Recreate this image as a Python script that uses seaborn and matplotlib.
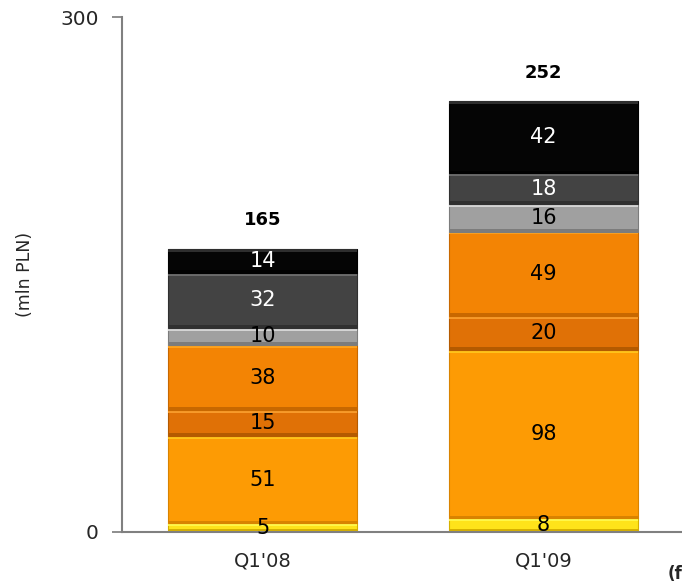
import matplotlib.pyplot as plt
import pandas as pd
import seaborn as sns

quarters = ["Q1'08", "Q1'09"]
segments = ["s1", "s2", "s3", "s4", "s5", "s6", "s7"]
values = {
    "s1": [5, 8],
    "s2": [51, 98],
    "s3": [15, 20],
    "s4": [38, 49],
    "s5": [10, 16],
    "s6": [32, 18],
    "s7": [14, 42],
}
totals = [165, 252]

colors = ["#ffe31a", "#fd9b04", "#e07106", "#f38404", "#a0a0a0", "#434343", "#050505"]
tops = ["#fff64a", "#ffc21a", "#f79a2a", "#ffa21c", "#d4d4d4", "#6a6a6a", "#2e2e2e"]
shades = ["#d6b000", "#d98300", "#b45a00", "#c86800", "#7c7c7c", "#303030", "#000000"]
text_colors = ["black", "black", "black", "black", "black", "white", "white"]

sns.set_theme(style="white")
plt.rcParams["font.family"] = ["DejaVu Sans"]

fig = plt.figure(figsize=(6.82, 5.87), dpi=100)
ax = fig.add_axes([0.179, 0.0937, 0.824, 0.877])

bevel = 1.6
bottom = [0, 0]
for seg, col, tp, sh, tc in zip(segments, colors, tops, shades, text_colors):
    df = pd.DataFrame({"Quarter": quarters, "Value": values[seg]})
    sns.barplot(data=df, x="Quarter", y="Value", bottom=bottom, color=col,
                edgecolor=sh, linewidth=0.8, width=0.67, ax=ax, saturation=1)
    # bevel strips: light on top, dark on bottom of each block
    seg_top = [b + v for b, v in zip(bottom, values[seg])]
    strip = pd.DataFrame({"Quarter": quarters, "Value": [bevel, bevel]})
    sns.barplot(data=strip, x="Quarter", y="Value", bottom=[t - bevel for t in seg_top],
                color=tp, linewidth=0, width=0.67, ax=ax, saturation=1)
    sns.barplot(data=strip, x="Quarter", y="Value", bottom=bottom,
                color=sh, linewidth=0, width=0.67, ax=ax, saturation=1)
    for i, v in enumerate(values[seg]):
        ax.text(i, bottom[i] + v / 2, str(v), ha="center", va="center",
                fontsize=15, color=tc)
    bottom = seg_top

for i, t in enumerate(totals):
    ax.text(i, bottom[i] + 11.5, str(t), ha="center", va="bottom",
            fontsize=13, fontweight="bold", color="black")

ax.set_xlim(-0.5, 1.5)
ax.set_ylim(0, 300)
ax.set_yticks([0, 300])
ax.set_xticks([-0.5, 0.5], minor=False)
ax.set_xticks([0, 1], minor=True)
ax.set_xticklabels(["", ""])
ax.set_xticklabels(quarters, minor=True)
ax.tick_params(axis="x", which="minor", length=0, labelsize=14, pad=14)
ax.tick_params(axis="x", which="major", length=7, color="#808080")
ax.tick_params(axis="y", length=7, color="#808080", labelsize=14.5, pad=10, left=True)
ax.set_xlabel("")
ax.set_ylabel("")
fig.text(25 / 682, 0.533, "(mln PLN)", rotation=90, ha="center", va="center", fontsize=12.5)
for side in ["top", "right"]:
    ax.spines[side].set_visible(False)
for side in ["left", "bottom"]:
    ax.spines[side].set_color("#808080")
    ax.spines[side].set_linewidth(1.5)

fig.text(0.979, 0.006, "(f)", fontsize=12, fontweight="bold", ha="left", va="bottom")

fig.savefig("out.png", dpi=100)
